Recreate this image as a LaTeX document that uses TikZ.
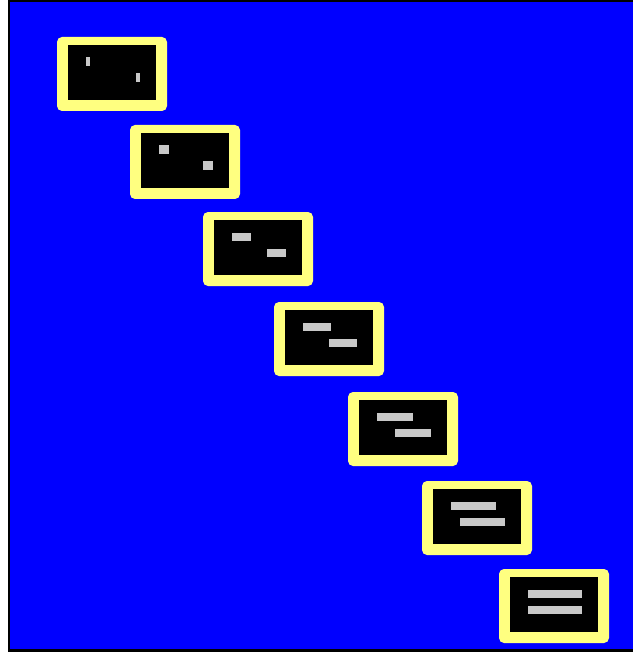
\documentclass[tikz,border=0pt]{standalone}
\definecolor{bgblue}{RGB}{0,0,255}
\definecolor{frameyellow}{RGB}{255,255,128}
\definecolor{markgray}{RGB}{200,200,200}
\tikzset{
  frame/.style={fill=frameyellow, draw=none, rounded corners=5pt},
  screen/.style={fill=black, draw=none},
  markbar/.style={fill=markgray, draw=none}
}
\begin{document}
\begin{tikzpicture}[x=1pt,y=-1pt]
\useasboundingbox (0,0) rectangle (632,652);
\fill[white] (0,0) rectangle (632,652);
\fill[black] (8,0) rectangle (633,652);
\fill[bgblue] (10,2) rectangle (633,649);
\foreach \bx/\by/\w/\h in {57/37/4/9, 130/125/10/9, 203/212/19/8.5, 274/302/28/8, 348/392/36/8, 422/481/45/8, 499/569/54/8}{
  \fill[frame] (\bx,\by) rectangle ++(110,74);
  \fill[screen] (\bx+11,\by+8) rectangle ++(88,55);
  \fill[markbar] (\bx+28.5,\by+20.5) rectangle ++(\w,\h);
  \fill[markbar] (\bx+83-\w,\by+36.5) rectangle ++(\w,\h);
}
\end{tikzpicture}
\end{document}
